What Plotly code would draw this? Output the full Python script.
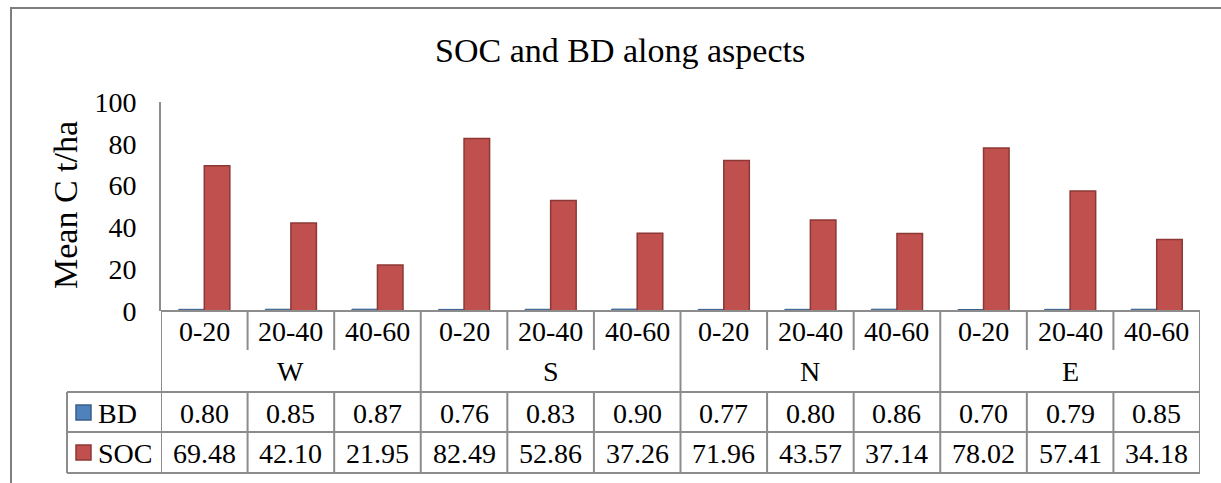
import plotly.graph_objects as go

# Sample depths (cm) and slope aspects
depths = ["0-20", "20-40", "40-60"]
aspects = ["W", "S", "N", "E"]

# Bulk density and soil organic carbon per aspect/depth
bd = [0.80, 0.85, 0.87, 0.76, 0.83, 0.90, 0.77, 0.80, 0.86, 0.70, 0.79, 0.85]
soc = [69.48, 42.10, 21.95, 82.49, 52.86, 37.26, 71.96, 43.57, 37.14, 78.02, 57.41, 34.18]

y_ticks = [0, 20, 40, 60, 80, 100]

W, H = 1221, 483
FONT = "Liberation Serif, Times New Roman, serif"
GRID = "#8c8c8c"
BLUE, BLUE_EDGE = "#4F81BD", "#385D8A"
RED, RED_EDGE = "#C0504D", "#8C3836"


def px(x):
    return x / W


def py(y):
    return 1 - y / H


n = len(bd)
idx = list(range(n))

fig = go.Figure()
fig.add_trace(go.Bar(x=idx, y=bd, name="BD", marker=dict(color=BLUE, line=dict(color=BLUE_EDGE, width=1))))
fig.add_trace(go.Bar(x=idx, y=soc, name="SOC", marker=dict(color=RED, line=dict(color=RED_EDGE, width=1.5))))

fig.update_layout(
    width=W, height=H,
    margin=dict(l=0, r=0, t=0, b=0, pad=0, autoexpand=False),
    paper_bgcolor="white", plot_bgcolor="white",
    barmode="group", bargap=0.41, bargroupgap=0,
    showlegend=False,
    font=dict(family=FONT, color="black", size=28),
    xaxis=dict(domain=[px(161), px(1200)], range=[-0.5, n - 0.5],
               showticklabels=False, showgrid=False, zeroline=False,
               showline=False, fixedrange=True, automargin=False),
    yaxis=dict(domain=[py(311), py(102)], range=[0, 100], tickvals=y_ticks,
               showgrid=False, zeroline=False, showline=True, linecolor=GRID,
               linewidth=2, ticks="", ticklabelstandoff=17, automargin=False,
               tickfont=dict(family=FONT, size=28, color="black")),
)

shapes = []
annots = []


def hline(x0, x1, y, xref="paper"):
    shapes.append(dict(type="line", xref=xref, yref="paper", x0=x0, x1=x1,
                       y0=py(y), y1=py(y), line=dict(color=GRID, width=2)))


def vline(x, y0, y1, xref="paper"):
    shapes.append(dict(type="line", xref=xref, yref="paper", x0=x, x1=x,
                       y0=py(y0), y1=py(y1), line=dict(color=GRID, width=2)))


def label(x, y, text, xref="paper", size=28, xanchor="center", angle=0):
    annots.append(dict(x=x, y=y, xref=xref, yref="paper", text=text, showarrow=False,
                       xanchor=xanchor, yanchor="middle", textangle=angle,
                       font=dict(family=FONT, size=size, color="black")))


# Outer chart frame
shapes.append(dict(type="rect", xref="paper", yref="paper", x0=px(11), x1=px(1240),
                   y0=py(8), y1=py(520), line=dict(color="#7f7f7f", width=2)))

# Data table grid
hline(-0.5, n - 0.5, 311, xref="x")
hline(px(67), px(1200), 392)
hline(px(67), px(1200), 432)
hline(px(67), px(1200), 473)
vline(px(67), 392, 473)
vline(-0.5, 311, 473, xref="x")
for i in range(1, n + 1):
    b = i - 0.5
    if i % len(depths) == 0:
        vline(b, 311, 473, xref="x")
    else:
        vline(b, 311, 350, xref="x")
        vline(b, 392, 473, xref="x")

for i in range(n):
    label(i, py(331), depths[i % len(depths)], xref="x")
    label(i, py(413), f"{bd[i]:.2f}", xref="x")
    label(i, py(453), f"{soc[i]:.2f}", xref="x")
for g, a in enumerate(aspects):
    label(g * len(depths) + (len(depths) - 1) / 2, py(371), a, xref="x")

# Legend keys inside the table
for name, yc, fill, edge in [("BD", 413, BLUE, BLUE_EDGE), ("SOC", 453, RED, RED_EDGE)]:
    shapes.append(dict(type="rect", xref="paper", yref="paper", x0=px(76), x1=px(91),
                       y0=py(yc + 7), y1=py(yc - 8), fillcolor=fill, line=dict(color=edge, width=1.5)))
    label(px(96), py(yc), name, xanchor="left")

# Title and axis title
label(px(620), py(50), "SOC and BD along aspects", size=34)
label(px(66), py(205), "Mean C t/ha", size=34, angle=-90)

fig.update_layout(shapes=shapes, annotations=annots)
fig.write_html("out.html")
